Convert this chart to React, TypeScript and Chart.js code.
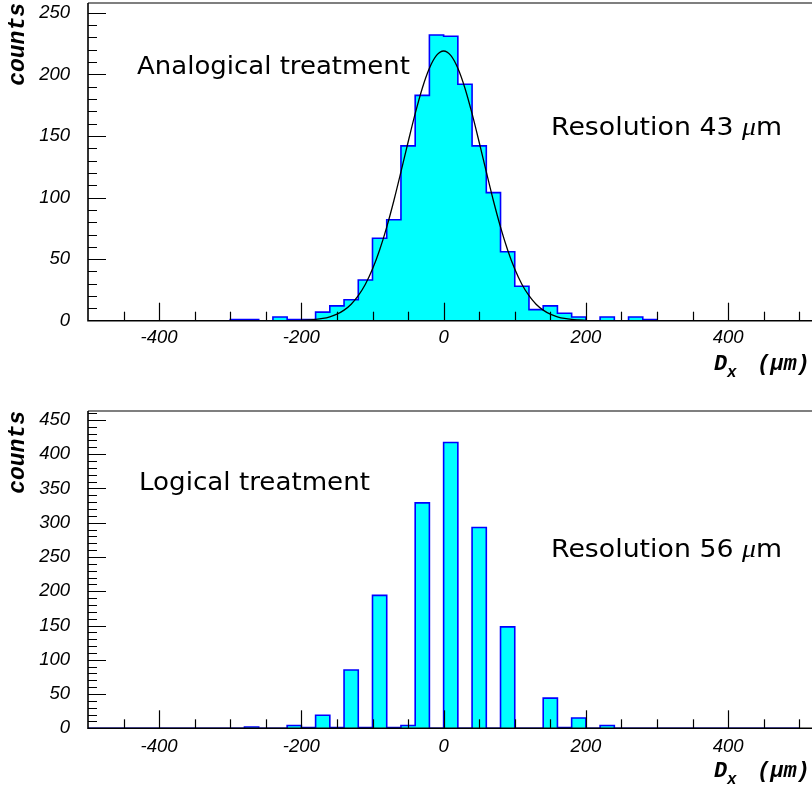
import React, { useEffect, useRef } from 'react';
import { Chart, registerables } from 'chart.js';
Chart.register(...registerables);

// ---------------- data ----------------
const BIN_WIDTH = 20;
const BIN_START = -500;
const N_BINS = 50;
const BIN_EDGES = Array.from({ length: N_BINS + 1 }, (_, i) => BIN_START + i * BIN_WIDTH);

// counts per 20 um bin, from -500 to 500
const ANALOG_COUNTS = [
  0, 0, 0, 0, 0, 0, 0, 0, 0, 0, // -500 .. -320
  1, 1, 0, 3, 1, 1, 7, 12, 17, 33, // -300 .. -120
  67, 82, 142, 183, 232, 231, 192, 142, 104, 56, // -100 .. 80
  28, 9, 12, 6, 3, 0, 3, 0, 3, 1, // 100 .. 280
  0, 0, 0, 0, 0, 0, 0, 0, 0, 0, // 300 .. 480
];

const LOGICAL_COUNTS = [
  0, 0, 0, 0, 0, 0, 0, 0, 0, 0, // -500 .. -320
  0, 2, 0, 0, 4, 1, 19, 1, 85, 1, // -300 .. -120
  194, 1, 4, 329, 0, 417, 0, 293, 0, 148, // -100 .. 80
  0, 0, 44, 1, 15, 0, 4, 0, 0, 0, // 100 .. 280
  0, 0, 0, 0, 0, 0, 0, 0, 0, 0, // 300 .. 480
];

// gaussian fit curve
const FIT_X = [
  -200, -190, -180, -170, -160, -150, -140, -130, -120, -110, -100, -90, -80, -70, -60, -50, -40, -30, -20, -10,
  0, 10, 20, 30, 40, 50, 60, 70, 80, 90, 100, 110, 120, 130, 140, 150, 160, 170, 180, 190, 200,
];
const FIT_Y = [
  0.3, 0.6, 1.0, 1.8, 3.2, 5.3, 8.6, 13.4, 20.3, 29.6, 41.9, 57.4, 76, 97.4, 120.8, 144.9, 168.1, 188.8, 205, 215.4,
  219, 215.4, 205, 188.8, 168.1, 144.9, 120.8, 97.4, 76, 57.4, 41.9, 29.6, 20.3, 13.4, 8.6, 5.3, 3.2, 1.8, 1.0, 0.6, 0.3,
];

const X_MIN = -500;
const X_MAX = 540;
const X_TICK_LABELS = [-400, -200, 0, 200, 400];
const Y_TICKS_TOP = [0, 50, 100, 150, 200, 250];
const Y_TICKS_BOTTOM = [0, 50, 100, 150, 200, 250, 300, 350, 400, 450];

const CANVAS_W = 840;
const TICK_FONT = { family: 'Liberation Sans, Arial, sans-serif', size: 18.5, style: 'italic' as const };
const MONO = '"Liberation Mono", "DejaVu Sans Mono", monospace';
const TEXT_FONT = '"DejaVu Sans", sans-serif';

type PanelProps = {
  counts: number[];
  fitX?: number[];
  fitY?: number[];
  yMax: number;
  yTicks: number[];
  canvasTop: number;
  canvasHeight: number;
  padTop: number;
  xAxisHeight: number;
  xLabelPad: number;
  label: string;
  labelX: number;
  labelY: number;
  labelW: number;
  resValue: string;
  resX: number;
  resY: number;
  resW: number;
  titleY: number;
};

function drawFitted(ctx: CanvasRenderingContext2D, parts: { text: string; font: string }[], x: number, y: number, targetW: number) {
  const widths = parts.map((p) => {
    ctx.font = p.font;
    return ctx.measureText(p.text).width;
  });
  const total = widths.reduce((a, b) => a + b, 0);
  const s = targetW / total;
  ctx.save();
  ctx.translate(x, y);
  ctx.scale(s, 1);
  let cx = 0;
  parts.forEach((p, i) => {
    ctx.font = p.font;
    ctx.fillText(p.text, cx, 0);
    cx += widths[i];
  });
  ctx.restore();
}

function Panel(p: PanelProps) {
  const ref = useRef<HTMLCanvasElement>(null);
  useEffect(() => {
    const canvas = ref.current!;
    const histPoints = BIN_EDGES.map((e, i) => ({ x: e, y: p.counts[Math.min(i, p.counts.length - 1)] }));
    const datasets: any[] = [];
    if (p.fitX && p.fitY) {
      datasets.push({
        data: p.fitX.map((x, i) => ({ x, y: p.fitY![i] })),
        borderColor: '#000000',
        borderWidth: 1.3,
        pointRadius: 0,
        fill: false,
        cubicInterpolationMode: 'monotone',
      });
    }
    datasets.push({
      data: histPoints,
      stepped: true,
      borderColor: '#0000ff',
      borderWidth: 1.6,
      backgroundColor: '#00ffff',
      fill: 'origin',
      pointRadius: 0,
    });

    const overlay = {
      id: 'rootOverlay',
      afterDraw(chart: any) {
        const { ctx, chartArea: a, scales } = chart;
        const x = scales.x;
        const y = scales.y;
        ctx.save();
        // frame
        ctx.strokeStyle = '#555';
        ctx.lineWidth = 1.5;
        ctx.beginPath();
        ctx.moveTo(a.left, a.top);
        ctx.lineTo(a.right, a.top);
        ctx.stroke();
        ctx.strokeStyle = '#000';
        ctx.lineWidth = 1.6;
        ctx.beginPath();
        ctx.moveTo(a.left, a.top);
        ctx.lineTo(a.left, a.bottom);
        ctx.lineTo(a.right, a.bottom);
        ctx.stroke();
        // x ticks
        ctx.lineWidth = 1.2;
        for (let v = -450; v <= 500; v += 50) {
          const px = Math.round(x.getPixelForValue(v)) + 0.5;
          const len = X_TICK_LABELS.includes(v) ? 18 : 9;
          ctx.beginPath();
          ctx.moveTo(px, a.bottom);
          ctx.lineTo(px, a.bottom - len);
          ctx.stroke();
        }
        // y ticks
        ctx.lineWidth = 1;
        for (let v = 10; v <= p.yMax; v += 10) {
          const py = Math.round(y.getPixelForValue(v)) + 0.5;
          const len = p.yTicks.includes(v) ? 18 : 9;
          ctx.beginPath();
          ctx.moveTo(a.left, py);
          ctx.lineTo(a.left + len, py);
          ctx.stroke();
        }
        // annotations
        ctx.fillStyle = '#000';
        ctx.textBaseline = 'alphabetic';
        ctx.textAlign = 'left';
        drawFitted(ctx, [{ text: p.label, font: `25px ${TEXT_FONT}` }], p.labelX, p.labelY, p.labelW);
        drawFitted(
          ctx,
          [
            { text: `Resolution ${p.resValue} `, font: `25px ${TEXT_FONT}` },
            { text: 'μ', font: `italic 26px "Liberation Serif", serif` },
            { text: 'm', font: `25px ${TEXT_FONT}` },
          ],
          p.resX,
          p.resY,
          p.resW,
        );
        // x title D_x (um)
        ctx.font = `bold italic 22px ${MONO}`;
        ctx.fillText('D', 714, p.titleY);
        ctx.font = `bold italic 16px ${MONO}`;
        ctx.fillText('x', 727, p.titleY + 7);
        ctx.font = `bold italic 22px ${MONO}`;
        ctx.fillText('(μm)', 757, p.titleY);
        ctx.restore();
      },
    };

    const chart = new Chart(canvas, {
      type: 'line',
      data: { datasets },
      plugins: [overlay],
      options: {
        responsive: false,
        animation: false,
        devicePixelRatio: 1,
        events: [],
        layout: { padding: { top: p.padTop, right: CANVAS_W - 827.7, left: 0, bottom: 0 } },
        plugins: { legend: { display: false }, tooltip: { enabled: false } },
        scales: {
          x: {
            type: 'linear',
            min: X_MIN,
            max: X_MAX,
            grid: { display: false, drawTicks: false },
            border: { display: false },
            ticks: {
              color: '#000',
              font: TICK_FONT,
              padding: p.xLabelPad,
              maxRotation: 0,
              autoSkip: false,
              callback: (v: any) => String(v),
            },
            afterBuildTicks: (s: any) => {
              s.ticks = X_TICK_LABELS.map((v) => ({ value: v }));
            },
            afterFit: (s: any) => {
              s.height = p.xAxisHeight;
              s.paddingLeft = 0;
              s.paddingRight = 0;
              s.paddingTop = 0;
              s.paddingBottom = 0;
            },
          },
          y: {
            type: 'linear',
            min: 0,
            max: p.yMax,
            grid: { display: false, drawTicks: false },
            border: { display: false },
            ticks: {
              color: '#000',
              font: TICK_FONT,
              padding: 18,
              autoSkip: false,
              callback: (v: any) => String(v),
            },
            afterBuildTicks: (s: any) => {
              s.ticks = p.yTicks.map((v) => ({ value: v }));
            },
            afterFit: (s: any) => {
              s.width = 88;
              s.paddingLeft = 0;
              s.paddingRight = 0;
              s.paddingTop = 0;
              s.paddingBottom = 0;
            },
            title: {
              display: true,
              text: 'counts',
              align: 'end',
              color: '#000',
              font: { family: MONO, size: 23, weight: 'bold', style: 'italic' },
              padding: { top: 4, bottom: 0 },
            },
          },
        },
      } as any,
    });
    return () => chart.destroy();
  }, []);
  return (
    <canvas
      ref={ref}
      width={CANVAS_W}
      height={p.canvasHeight}
      style={{ position: 'absolute', left: 0, top: p.canvasTop, width: CANVAS_W, height: p.canvasHeight }}
    />
  );
}

export default function App() {
  return (
    <div style={{ position: 'fixed', left: 0, top: 0, width: 812, height: 794, overflow: 'hidden', background: '#fff' }}>
      <Panel
        counts={ANALOG_COUNTS}
        fitX={FIT_X}
        fitY={FIT_Y}
        yMax={258}
        yTicks={Y_TICKS_TOP}
        canvasTop={0}
        canvasHeight={395}
        padTop={3}
        xAxisHeight={395 - 320.7}
        xLabelPad={6}
        label="Analogical treatment"
        labelX={137}
        labelY={74}
        labelW={273}
        resValue="43"
        resX={551}
        resY={135}
        resW={231}
        titleY={370}
      />
      <Panel
        counts={LOGICAL_COUNTS}
        yMax={463}
        yTicks={Y_TICKS_BOTTOM}
        canvasTop={395}
        canvasHeight={399}
        padTop={16}
        xAxisHeight={399 - 333.3}
        xLabelPad={7}
        label="Logical treatment"
        labelX={139}
        labelY={490 - 395}
        labelW={231}
        resValue="56"
        resX={551}
        resY={557 - 395}
        resW={231}
        titleY={777 - 395}
      />
    </div>
  );
}
